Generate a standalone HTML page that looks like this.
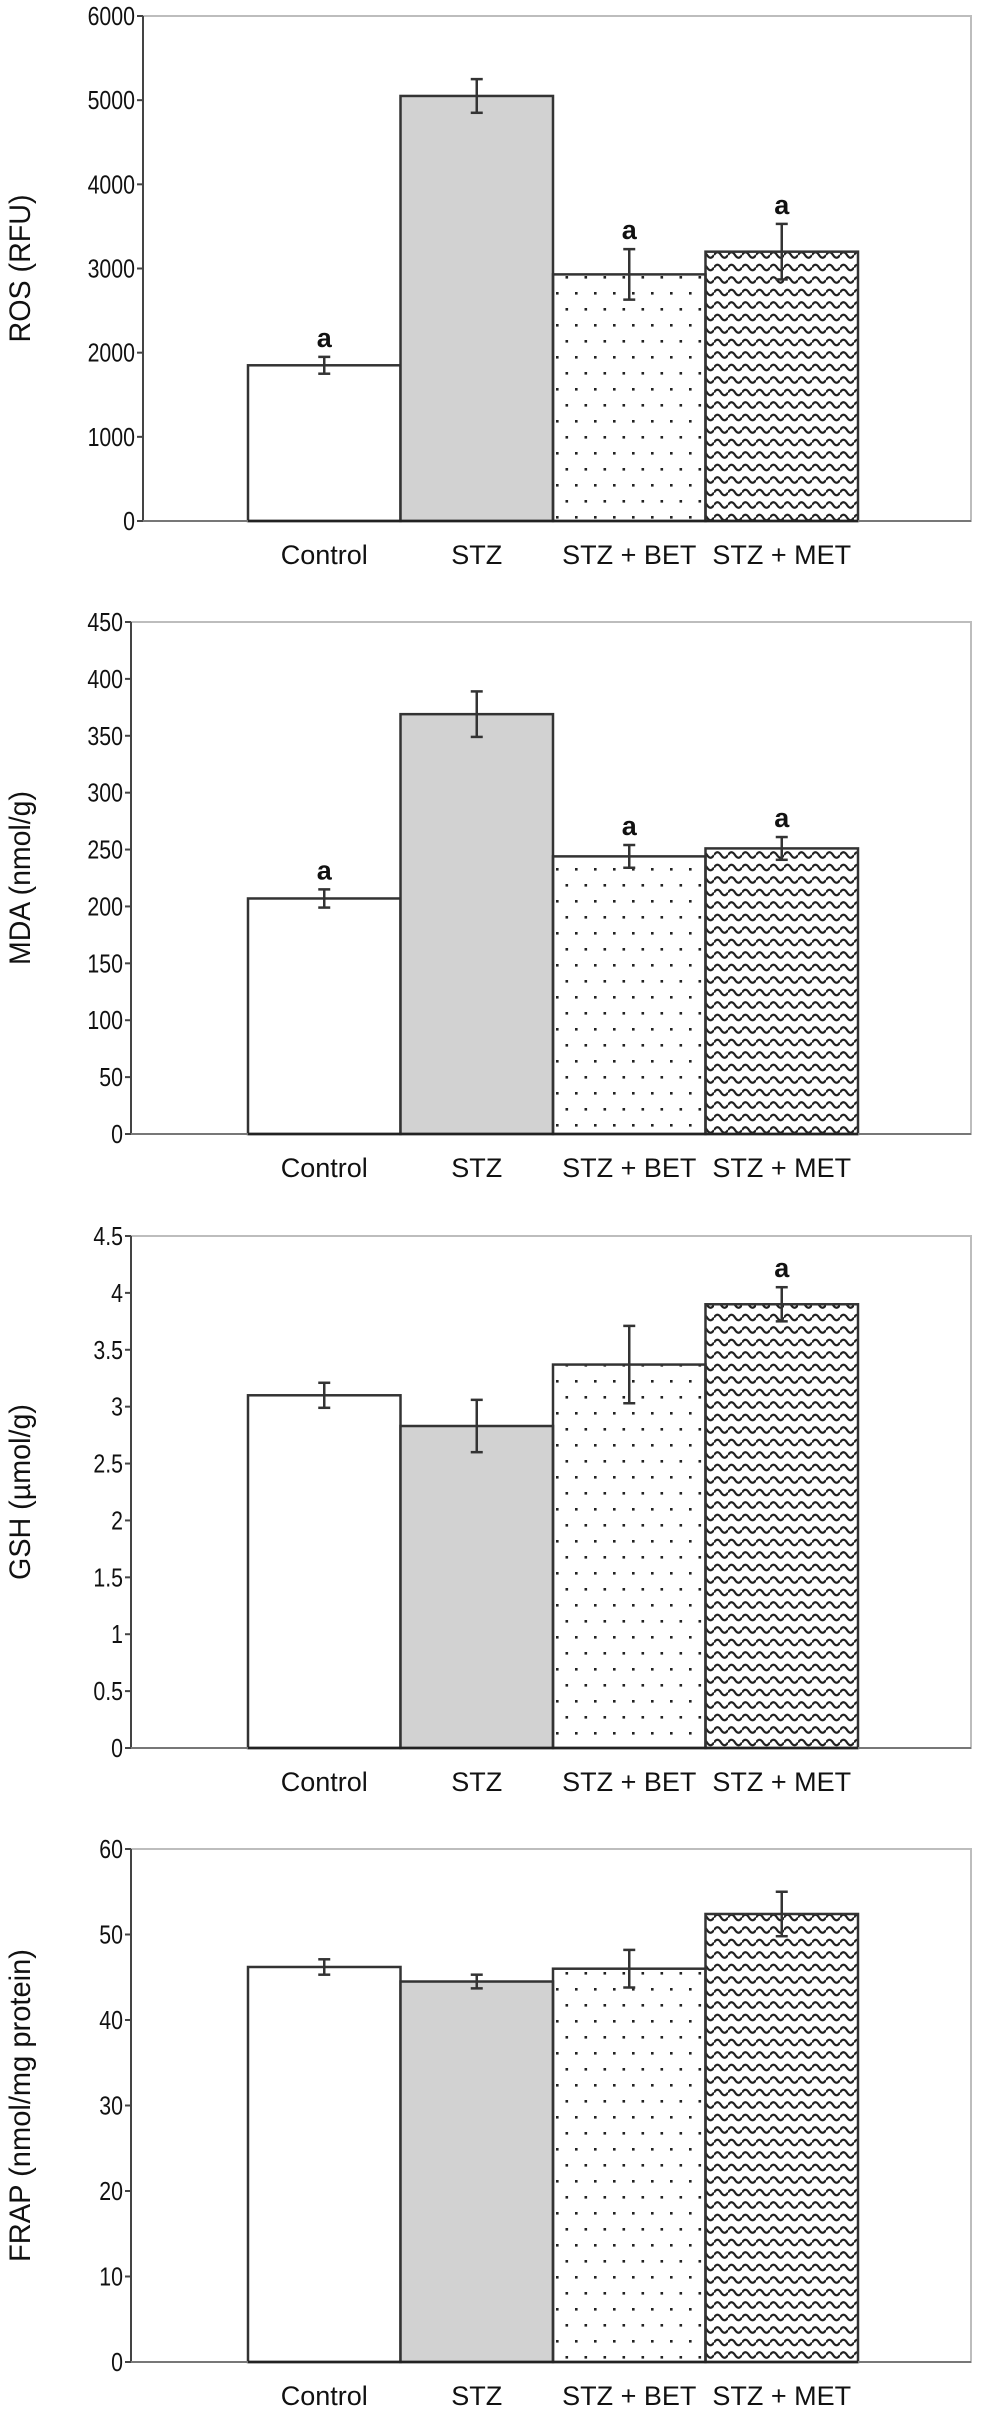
<!DOCTYPE html>
<html><head><meta charset="utf-8">
<style>
html,body{margin:0;padding:0;background:#fff;}
svg{display:block;}
text{font-family:"Liberation Sans",Arial,sans-serif;fill:#111;}
</style></head>
<body>
<svg id="fig" width="982" height="2411" viewBox="0 0 982 2411" xmlns="http://www.w3.org/2000/svg">
<defs>
<pattern id="dots" width="19" height="32" patternUnits="userSpaceOnUse">
<rect x="5" y="4" width="2.6" height="2.6" fill="#222"/>
<rect x="14.5" y="20" width="2.6" height="2.6" fill="#222"/>
</pattern>
<pattern id="wave" width="14" height="12.5" patternUnits="userSpaceOnUse">
<path d="M0 5 Q3.5 -0.5 7 5 T14 5" fill="none" stroke="#222" stroke-width="2.2"/>
</pattern>
</defs>
</svg>
<script>
const categories = ["Control","STZ","STZ + BET","STZ + MET"];
const rosValues = [1850, 5050, 2930, 3200];
const rosErrors = [100, 200, 300, 330];
const rosSig = [true, false, true, true];
const rosTicks = [0,1000,2000,3000,4000,5000,6000];
const mdaValues = [207, 369, 244, 251];
const mdaErrors = [8, 20, 10, 10];
const mdaSig = [true, false, true, true];
const mdaTicks = [0,50,100,150,200,250,300,350,400,450];
const gshValues = [3.1, 2.83, 3.37, 3.9];
const gshErrors = [0.11, 0.23, 0.34, 0.15];
const gshSig = [false, false, false, true];
const gshTicks = ["0","0.5","1","1.5","2","2.5","3","3.5","4","4.5"];
const frapValues = [46.2, 44.5, 46, 52.4];
const frapErrors = [0.9, 0.8, 2.2, 2.6];
const frapSig = [false, false, false, false];
const frapTicks = [0,10,20,30,40,50,60];

const NS = "http://www.w3.org/2000/svg";
const svg = document.getElementById("fig");
function mk(tag, attrs, parent){
  const e = document.createElementNS(NS, tag);
  for (const k in attrs) e.setAttribute(k, attrs[k]);
  (parent||svg).appendChild(e);
  return e;
}
const fills = ["#ffffff","#d2d2d2","url(#dots)","url(#wave)"];
const barNames = ["control","stz","stz-bet","stz-met"];

function chart(cfg){
  const g = mk("g", {});
  
  
  const ymax = parseFloat(cfg.ticks[cfg.ticks.length-1]);
  const y = v => cfg.zero - (v / ymax) * (cfg.zero - cfg.top);
  const bx0 = 248, bw = 152.5;
  const x = i => bx0 + i * bw;
  const frame = mk("rect", {x: cfg.ax, y: cfg.top, width: 971 - cfg.ax, height: cfg.zero - cfg.top, fill: "none", stroke: "#bdbdbd", "stroke-width": 2}, g);
  
  
  const yaxis = mk("line", {x1: cfg.ax, y1: cfg.top, x2: cfg.ax, y2: cfg.zero, stroke: "#444", "stroke-width": 2}, g);
  
  
  cfg.ticks.forEach(t => {
    const v = parseFloat(t);
    const ty = y(v);
    const tk = mk("line", {x1: cfg.ax - 6, y1: ty, x2: cfg.ax, y2: ty, stroke: "#444", "stroke-width": 2}, g);
    
    
    const tl = mk("text", {x: (cfg.ax - 8) / 0.82, y: ty + 9, "text-anchor": "end", "font-size": 26, transform: "scale(0.82,1)"}, g);
    tl.textContent = t;
    
    
  });
  cfg.values.forEach((v, i) => {
    const top = y(v);
    const b = mk("rect", {x: x(i), y: top, width: bw, height: cfg.zero - top, fill: fills[i], stroke: "#333", "stroke-width": 2.5}, g);
    
    
    const cx = x(i) + bw / 2;
    const e = cfg.errors[i];
    const eg = mk("g", {stroke: "#333", "stroke-width": 2.5}, g);
    
    
    mk("line", {x1: cx, y1: y(v + e), x2: cx, y2: y(v - e)}, eg);
    mk("line", {x1: cx - 6, y1: y(v + e), x2: cx + 6, y2: y(v + e)}, eg);
    mk("line", {x1: cx - 6, y1: y(v - e), x2: cx + 6, y2: y(v - e)}, eg);
    if (cfg.sig[i]) {
      const a = mk("text", {x: cx, y: y(v + e) - 10, "text-anchor": "middle", "font-size": 27, "font-weight": "bold"}, g);
      a.textContent = "a";
      
      
    }
    const cl = mk("text", {x: cx, y: cfg.zero + 43, "text-anchor": "middle", "font-size": 27}, g);
    cl.textContent = categories[i];
    
    
  });
  const xa = mk("line", {x1: cfg.ax, y1: cfg.zero, x2: 971, y2: cfg.zero, stroke: "#777", "stroke-width": 2}, g);
  
  
  mk("line", {x1: x(0), y1: cfg.zero, x2: x(4), y2: cfg.zero, stroke: "#222", "stroke-width": 2.5}, g);
  const mid = (cfg.top + cfg.zero) / 2;
  const yt = mk("text", {x: 0, y: 0, "text-anchor": "middle", "font-size": 30, textLength: cfg.titleLen, lengthAdjust: "spacingAndGlyphs", transform: "translate(" + cfg.titleX + "," + mid + ") rotate(-90)"}, g);
  yt.textContent = cfg.title;
  
  
}

chart({name:"ros", title:"ROS (RFU)", ax:143, top:16, zero:521, ticks:rosTicks.map(String), values:rosValues, errors:rosErrors, sig:rosSig, titleX:30, titleLen:148});
chart({name:"mda", title:"MDA (nmol/g)", ax:131, top:622, zero:1134, ticks:mdaTicks.map(String), values:mdaValues, errors:mdaErrors, sig:mdaSig, titleX:30, titleLen:174});
chart({name:"gsh", title:"GSH (\u00b5mol/g)", ax:131, top:1236, zero:1748, ticks:gshTicks, values:gshValues, errors:gshErrors, sig:gshSig, titleX:30, titleLen:176});
chart({name:"frap", title:"FRAP (nmol/mg protein)", ax:131, top:1849, zero:2362, ticks:frapTicks.map(String), values:frapValues, errors:frapErrors, sig:frapSig, titleX:30, titleLen:313});
</script>
</body></html>
